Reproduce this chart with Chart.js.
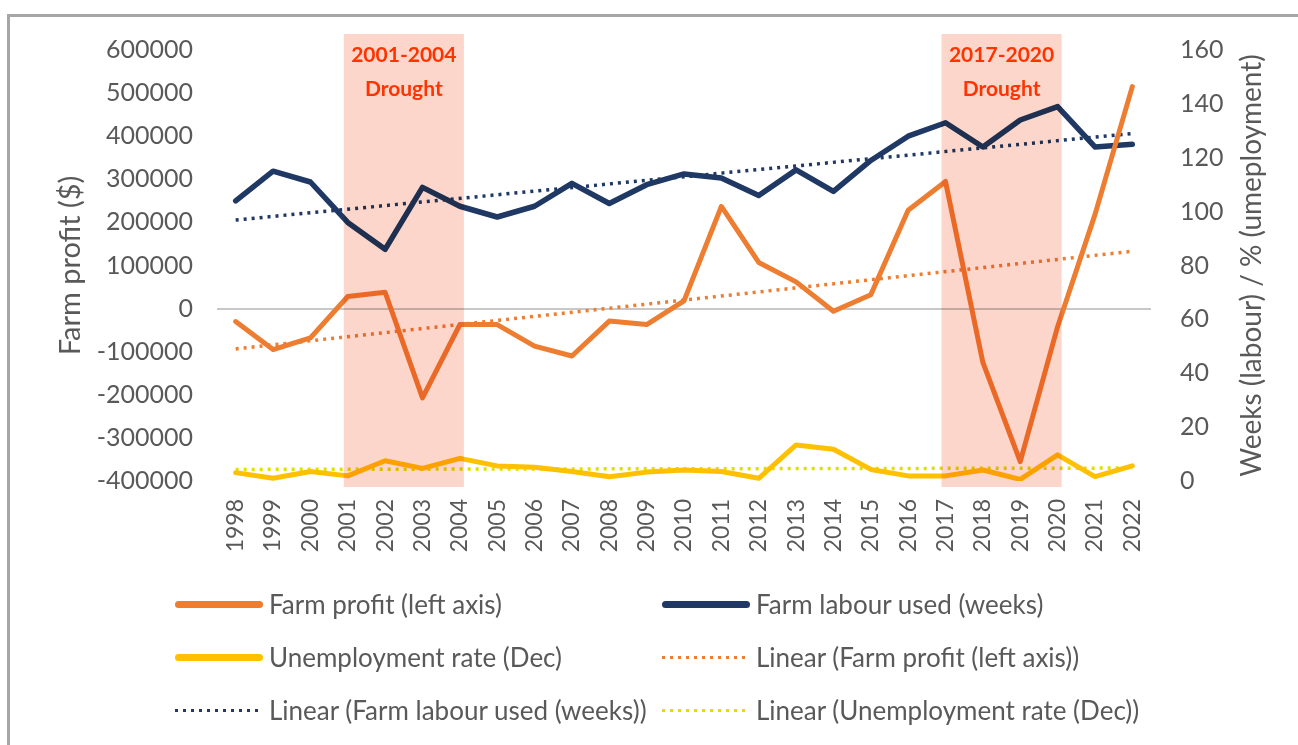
<!DOCTYPE html>
<html>
<head>
<meta charset="utf-8">
<script src="https://cdn.jsdelivr.net/npm/chart.js@4.4.1/dist/chart.umd.min.js"></script>
<style>
  html, body { margin: 0; padding: 0; background: #fff; }
  body { width: 1298px; height: 745px; position: relative; overflow: hidden; font-family: Lato, 'Open Sans', sans-serif; }
  #frame { position: absolute; left: 7px; top: 14px; width: 1310px; height: 760px; border-left: 3px solid #a6a6a6; border-top: 3px solid #a6a6a6; }
  #chart { position: absolute; left: 0; top: 0; }
  .item { position: absolute; display: flex; align-items: center; height: 32px; margin-top: -16px; color: #595959; font-size: 26px; white-space: nowrap; }
  .sym { width: 88px; margin-right: 6px; }
</style>
</head>
<body>
<div id="frame"></div>
<canvas id="chart" width="1298" height="745"></canvas>
<div id="legend"></div>
<script>
// --- data ---
const years = ['1998','1999','2000','2001','2002','2003','2004','2005','2006','2007','2008','2009','2010',
               '2011','2012','2013','2014','2015','2016','2017','2018','2019','2020','2021','2022'];

const farmProfit = [-30000, -95000, -68000, 28000, 38000, -207000, -37000, -37000, -87000, -110000,
                    -29000, -37000, 18000, 237000, 107000, 62000, -6000, 32000, 228000, 295000,
                    -125000, -355000, -42000, 218000, 515000];

const farmLabour = [104, 115, 111, 96, 86, 109, 102, 98, 102, 110.5, 103, 110, 114, 112.5, 106,
                    115.5, 107.5, 119, 128, 133, 124, 134, 139, 124, 125];

const unemployment = [3.1, 1.0, 3.5, 1.9, 7.5, 4.7, 8.4, 5.6, 5.1, 3.5, 1.6, 3.3, 4.1, 3.5, 1.0,
                      13.4, 11.8, 4.3, 1.9, 1.9, 4.1, 0.6, 9.7, 1.6, 5.6];

// linear trendlines: only the end values (first / last year)
const profitTrendEnds = [-93500, 133000];
const labourTrendEnds = [96.9, 129];
const unempTrendEnds  = [4.3, 4.8];

const leftTicks  = { min: -400000, max: 600000, step: 100000 };
const rightTicks = { min: 0, max: 160, step: 20 };

const droughts = [
  { from: '2001', to: '2004', label: ['2001-2004', 'Drought'] },
  { from: '2017', to: '2020', label: ['2017-2020', 'Drought'] }
];

const trend = ends => years.map((_, i) => i === 0 ? ends[0] : (i === years.length - 1 ? ends[1] : null));

const GREY = '#595959';
Chart.defaults.font.family = 'Lato, "Open Sans", sans-serif';
Chart.defaults.color = GREY;

const droughtPlugin = {
  id: 'drought',
  afterDatasetsDraw(chart) {
    const { ctx, chartArea } = chart;
    const x = chart.scales.x;
    droughts.forEach(d => {
      const x0 = x.getPixelForValue(years.indexOf(d.from)) - 4;
      const x1 = x.getPixelForValue(years.indexOf(d.to)) + 4;
      ctx.save();
      ctx.globalCompositeOperation = 'multiply';
      ctx.fillStyle = '#FCD6CA';
      ctx.fillRect(x0, chartArea.top - 16, x1 - x0, chartArea.bottom - chartArea.top + 22);
      ctx.restore();
      ctx.save();
      ctx.fillStyle = '#FF3300';
      ctx.font = 'bold 21px Lato, "Open Sans", sans-serif';
      ctx.textAlign = 'center';
      ctx.textBaseline = 'middle';
      ctx.fillText(d.label[0], (x0 + x1) / 2, chartArea.top + 5);
      ctx.fillText(d.label[1], (x0 + x1) / 2, chartArea.top + 39);
      ctx.restore();
    });
  }
};

// right axis title reads bottom-to-top, as in the original
const rightTitlePlugin = {
  id: 'rightTitle',
  afterDraw(chart) {
    const { ctx, chartArea } = chart;
    ctx.save();
    ctx.translate(1252, (chartArea.top + chartArea.bottom) / 2);
    ctx.rotate(-Math.PI / 2);
    ctx.fillStyle = GREY;
    ctx.font = '28px Lato, "Open Sans", sans-serif';
    ctx.textAlign = 'center';
    ctx.textBaseline = 'middle';
    ctx.fillText('Weeks (labour) / % (umeployment)', 0, 0);
    ctx.restore();
  }
};

const solid = (label, data, color, axis, width) => ({
  label, data, yAxisID: axis, borderColor: color, backgroundColor: color,
  borderWidth: width, pointRadius: 0, tension: 0,
  borderJoinStyle: 'round', borderCapStyle: 'round', kind: 'solid'
});
const dotted = (label, data, color, axis) => ({
  label, data, yAxisID: axis, borderColor: color, backgroundColor: color,
  borderWidth: 3.5, borderDash: [3, 5], pointRadius: 0, spanGaps: true, kind: 'dotted'
});

const chart = new Chart(document.getElementById('chart'), {
  type: 'line',
  data: {
    labels: years,
    datasets: [
      solid('Farm profit (left axis)', farmProfit, '#ED7D31', 'y', 5),
      solid('Farm labour used (weeks)', farmLabour, '#1F3864', 'y1', 5.5),
      solid('Unemployment rate (Dec)', unemployment, '#FFC000', 'y1', 5),
      dotted('Linear (Farm profit (left axis))', trend(profitTrendEnds), '#ED7D31', 'y'),
      dotted('Linear (Farm labour used (weeks))', trend(labourTrendEnds), '#1F3864', 'y1'),
      dotted('Linear (Unemployment rate (Dec))', trend(unempTrendEnds), '#DDE000', 'y1')
    ]
  },
  options: {
    responsive: false,
    animation: false,
    layout: { padding: { top: 50, bottom: 184, left: 0, right: 0 } },
    plugins: { legend: { display: false }, tooltip: { enabled: false } },
    scales: {
      x: {
        offset: true,
        grid: { display: false, drawTicks: false },
        border: { display: false },
        ticks: { color: GREY, font: { size: 23 }, minRotation: 90, maxRotation: 90, autoSkip: false, padding: 18 },
        afterFit: s => { s.height = 80; }
      },
      y: {
        position: 'left',
        min: leftTicks.min, max: leftTicks.max,
        ticks: { stepSize: leftTicks.step, color: GREY, font: { size: 25 }, padding: 24, callback: v => String(v) },
        grid: { color: c => c.tick && c.tick.value === 0 ? '#c8c8c8' : 'rgba(0,0,0,0)', lineWidth: 2, drawTicks: false },
        border: { display: false },
        title: { display: true, text: 'Farm profit ($)', color: GREY, font: { size: 29 }, padding: { top: 53, bottom: 0 } },
        afterFit: s => { s.width = 217; }
      },
      y1: {
        position: 'right',
        min: rightTicks.min, max: rightTicks.max,
        ticks: { stepSize: rightTicks.step, color: GREY, font: { size: 25 }, padding: 29 },
        grid: { display: false, drawTicks: false },
        border: { display: false },
        afterFit: s => { s.width = 147; }
      }
    }
  },
  plugins: [droughtPlugin, rightTitlePlugin]
});

// two-column legend under the plot, built from the datasets
const legendPos = [[175, 604], [662, 604], [175, 657], [662, 657], [175, 710], [662, 710]];
const legendEl = document.getElementById('legend');
chart.data.datasets.forEach((ds, i) => {
  const item = document.createElement('div');
  item.className = 'item';
  item.style.left = legendPos[i][0] + 'px';
  item.style.top = legendPos[i][1] + 'px';
  const sym = document.createElement('div');
  sym.className = 'sym';
  if (ds.kind === 'solid') {
    sym.style.height = '7px';
    sym.style.borderRadius = '4px';
    sym.style.background = ds.borderColor;
  } else {
    sym.style.height = '3px';
    sym.style.background = `repeating-linear-gradient(to right, ${ds.borderColor} 0 3px, transparent 3px 8px)`;
  }
  const txt = document.createElement('span');
  txt.textContent = ds.label;
  item.appendChild(sym);
  item.appendChild(txt);
  legendEl.appendChild(item);
});
</script>
</body>
</html>
